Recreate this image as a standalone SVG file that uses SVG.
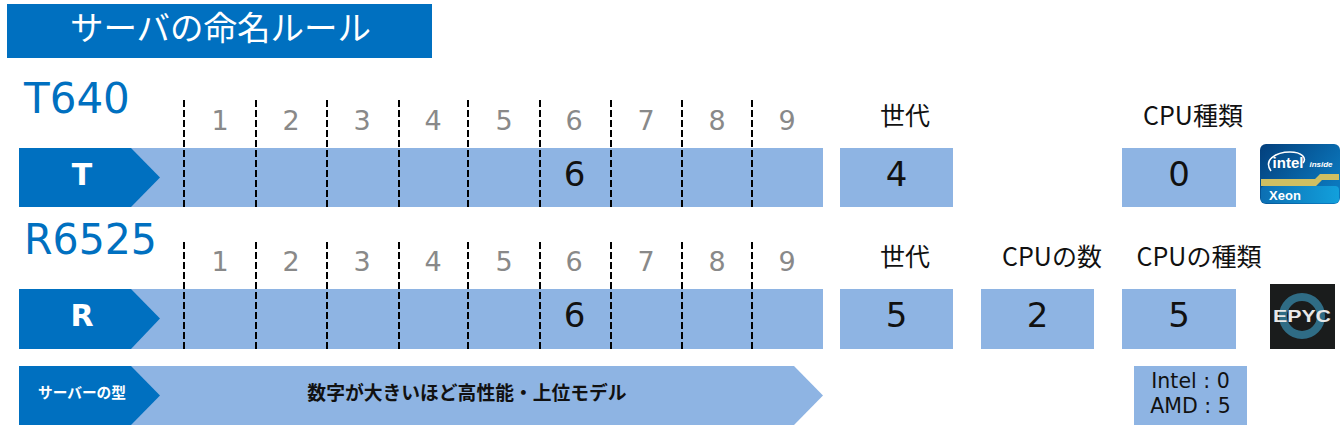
<svg xmlns="http://www.w3.org/2000/svg" width="1340" height="433" viewBox="0 0 1340 433">
<defs>
<linearGradient id="ib" x1="0" y1="0" x2="1" y2="0.600"><stop offset="0" stop-color="#033f7c"/><stop offset="1" stop-color="#0b78bd"/></linearGradient>
<linearGradient id="ix" x1="0" y1="0" x2="1" y2="0"><stop offset="0" stop-color="#0c6fb3"/><stop offset="1" stop-color="#12a0dc"/></linearGradient>
</defs>
<style>
text{font-family:"DejaVu Sans","Noto Sans CJK JP",sans-serif;text-anchor:middle}
.b{fill:#8eb4e3}.d{fill:#0070c0}
.n{font-size:27px;fill:#898989}
.v{font-size:34px;fill:#111}
.l{font-size:25px;fill:#111;font-family:"Noto Sans CJK JP","DejaVu Sans",sans-serif}
.m{font-size:42px;fill:#0070c0;text-anchor:start}
.k{font-size:30px;font-weight:bold;fill:#fff}
.j{font-family:"Noto Sans CJK JP",sans-serif}
.dash{stroke:#000;stroke-width:2;stroke-dasharray:7 3;fill:none}
</style>
<rect width="1340" height="433" fill="#fff"/>
<g id="title"><rect class="d" x="7" y="4" width="425" height="54"/>
<text class="j" x="220.500" y="40" font-size="33.500" fill="#fff">サーバの命名ルール</text></g>

<g id="row-t640">
<text class="m" x="24" y="113">T640</text>
<rect class="b" x="19" y="148" width="804" height="59"/>
<polygon class="d" points="19,148 131,148 160,177.500 131,207 19,207"/>
<text class="k" x="82" y="185">T</text>
<text class="n" x="220" y="130">1</text><text class="n" x="291" y="130">2</text><text class="n" x="362" y="130">3</text><text class="n" x="433" y="130">4</text><text class="n" x="504" y="130">5</text><text class="n" x="574" y="130">6</text><text class="n" x="646" y="130">7</text><text class="n" x="717" y="130">8</text><text class="n" x="787" y="130">9</text>
<text class="v" x="574.500" y="186">6</text>
</g>
<g id="t-gen"><text class="l" x="905" y="125">世代</text><rect class="b" x="840" y="148" width="113" height="59"/><text class="v" x="896.500" y="186">4</text></g>
<g id="t-cpu"><text class="l" x="1193" y="125">CPU種類</text><rect class="b" x="1122" y="148" width="114" height="59"/><text class="v" x="1179" y="186">0</text></g>
<g id="intel-logo">
<rect x="1260" y="144" width="80" height="60" rx="6" fill="url(#ib)"/>
<rect x="1261" y="186" width="78" height="17" rx="4" fill="url(#ix)"/>
<polygon points="1261,179 1315,179 1320,174 1339,174 1339,180 1322,180 1316,186 1261,186" fill="#cfbf62"/>
<path d="M1271 171C1263 160 1276 152 1290 152C1302 152 1307 158 1303 163" fill="none" stroke="#fff" stroke-width="1.500"/>
<text x="1288" y="168" font-size="15" font-weight="bold" fill="#fff" style="font-family:'Liberation Sans',sans-serif">intel</text>
<text x="1321" y="167" font-size="8" font-weight="bold" font-style="italic" fill="#fff" style="font-family:'Liberation Sans',sans-serif">inside</text>
<text x="1285" y="200" font-size="13" font-weight="bold" fill="#fff" style="font-family:'Liberation Sans',sans-serif">Xeon</text>
</g>

<g id="row-r6525">
<text class="m" x="24" y="254" textLength="133" lengthAdjust="spacingAndGlyphs">R6525</text>
<rect class="b" x="19" y="289" width="804" height="60"/>
<polygon class="d" points="19,289 131,289 160,318.500 131,349 19,349"/>
<text class="k" x="82" y="326">R</text>
<text class="n" x="220" y="271">1</text><text class="n" x="291" y="271">2</text><text class="n" x="362" y="271">3</text><text class="n" x="433" y="271">4</text><text class="n" x="504" y="271">5</text><text class="n" x="574" y="271">6</text><text class="n" x="646" y="271">7</text><text class="n" x="717" y="271">8</text><text class="n" x="787" y="271">9</text>
<text class="v" x="574.500" y="327">6</text>
</g>
<g id="r-gen"><text class="l" x="905" y="266">世代</text><rect class="b" x="840" y="289" width="113" height="60"/><text class="v" x="896.500" y="327">5</text></g>
<g id="r-num"><text class="l" x="1052" y="266">CPUの数</text><rect class="b" x="981" y="289" width="113" height="60"/><text class="v" x="1037.500" y="327">2</text></g>
<g id="r-cpu"><text class="l" x="1199" y="266">CPUの種類</text><rect class="b" x="1122" y="289" width="114" height="60"/><text class="v" x="1179" y="327">5</text></g>
<g id="epyc-logo">
<rect x="1270" y="284" width="65" height="65" fill="#1a1c1c"/>
<circle cx="1302" cy="316" r="19" fill="none" stroke="#2f6c85" stroke-width="8"/>
<text x="1302" y="322" font-size="17" font-weight="bold" fill="#e8e8e8" textLength="58" lengthAdjust="spacingAndGlyphs" style="font-family:'Liberation Sans',sans-serif">EPYC</text>
</g>

<g id="legend-bar">
<polygon class="b" points="19,366 794,366 823,395.500 794,425 19,425"/>
<polygon class="d" points="19,366 131,366 160,395.500 131,425 19,425"/>
<text class="j" x="82" y="398" font-size="14.700" font-weight="bold" fill="#fff">サーバーの型</text>
<text class="j" x="467" y="400" font-size="18.800" font-weight="bold" fill="#111">数字が大きいほど高性能・上位モデル</text>
</g>
<g id="legend-cpu"><rect class="b" x="1134" y="366" width="113" height="59"/>
<text x="1190.500" y="388" font-size="20.500" fill="#111">Intel : 0</text>
<text x="1190.500" y="413" font-size="20.500" fill="#111">AMD : 5</text></g>

<g id="connectors">
<path class="dash" d="M184 100V207M256 100V207M327 100V207M399 100V207M468 100V207M540 100V207M611 100V207M682 100V207M752 100V207"/>
<path class="dash" d="M184 242V349M256 242V349M327 242V349M399 242V349M468 242V349M540 242V349M611 242V349M682 242V349M752 242V349"/>
</g>
</svg>
